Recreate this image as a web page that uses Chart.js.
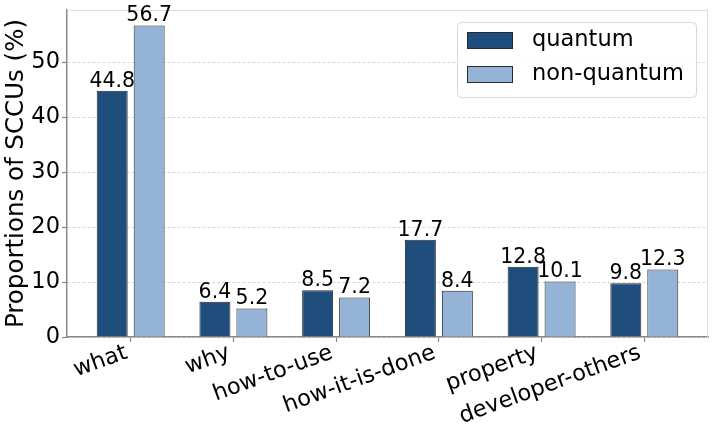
<!DOCTYPE html>
<html><head><meta charset="utf-8">
<script src="https://cdn.jsdelivr.net/npm/chart.js@4.4.0/dist/chart.umd.min.js"></script>
<style>html,body{margin:0;padding:0;background:#fff;}#wrap{width:713px;height:437px;}</style>
</head><body><div id="wrap"><canvas id="c" width="713" height="437"></canvas></div>
<script>
const categories = ['what','why','how-to-use','how-it-is-done','property','developer-others'];
const quantum = [44.8, 6.4, 8.5, 17.7, 12.8, 9.8];
const nonQuantum = [56.7, 5.2, 7.2, 8.4, 10.1, 12.3];
const seriesNames = ['quantum','non-quantum'];
const yTicks = [0, 10, 20, 30, 40, 50];

const FONT = '"DejaVu Sans", sans-serif';
const DARK = '#1f4e7d';
const LIGHT = '#95b3d7';
const EDGE = '#2a2a2a';

const toPoints = arr => arr.map((v, i) => ({x: i, y: v}));

const framePlugin = {
  id: 'frame',
  beforeDatasetsDraw(chart) {
    const {ctx, chartArea: a} = chart;
    ctx.save();
    ctx.strokeStyle = '#dddddd';
    ctx.lineWidth = 1;
    ctx.beginPath();
    ctx.moveTo(a.left, a.top + 0.5);
    ctx.lineTo(a.right - 0.5, a.top + 0.5);
    ctx.lineTo(a.right - 0.5, a.bottom);
    ctx.stroke();
    ctx.restore();
  }
};

const valueLabels = {
  id: 'valueLabels',
  afterDatasetsDraw(chart) {
    const ctx = chart.ctx;
    ctx.save();
    ctx.font = '20.5px ' + FONT;
    ctx.fillStyle = '#000';
    ctx.textAlign = 'center';
    ctx.textBaseline = 'alphabetic';
    chart.data.datasets.forEach((ds, di) => {
      const meta = chart.getDatasetMeta(di);
      meta.data.forEach((bar, i) => {
        ctx.fillText(ds.data[i].y.toFixed(1), bar.x, bar.y - 4);
      });
    });
    ctx.restore();
  }
};

const legendBox = {
  id: 'legendBox',
  afterDraw(chart) {
    const {ctx, chartArea: a} = chart;
    const w = 239, h = 75;
    const x = a.right - 12 - w, y = a.top + 12;
    ctx.save();
    ctx.beginPath();
    if (ctx.roundRect) ctx.roundRect(x + 0.5, y + 0.5, w, h, 4); else ctx.rect(x + 0.5, y + 0.5, w, h);
    ctx.fillStyle = 'rgba(255,255,255,0.85)';
    ctx.fill();
    ctx.strokeStyle = '#d8d8d8';
    ctx.lineWidth = 1;
    ctx.stroke();
    ctx.font = '22.5px ' + FONT;
    ctx.textAlign = 'left';
    ctx.textBaseline = 'middle';
    chart.data.datasets.forEach((ds, i) => {
      const sy = y + 10 + i * 34;
      ctx.fillStyle = ds.backgroundColor;
      ctx.fillRect(x + 10, sy, 46, 17);
      ctx.strokeStyle = EDGE;
      ctx.lineWidth = 1;
      ctx.strokeRect(x + 10.5, sy + 0.5, 45, 16);
      ctx.fillStyle = '#000';
      ctx.fillText(ds.label, x + 75, sy + 8.5);
    });
    ctx.restore();
  }
};

new Chart(document.getElementById('c'), {
  type: 'bar',
  data: {
    datasets: [
      {label: seriesNames[0], data: toPoints(quantum), backgroundColor: DARK, borderColor: EDGE, borderWidth: 1, borderSkipped: 'bottom'},
      {label: seriesNames[1], data: toPoints(nonQuantum), backgroundColor: LIGHT, borderColor: EDGE, borderWidth: 1, borderSkipped: 'bottom'}
    ]
  },
  options: {
    responsive: false,
    animation: false,
    devicePixelRatio: 1,
    categoryPercentage: 0.72,
    barPercentage: 0.838,
    layout: {padding: {top: 10, right: 5, left: 0, bottom: 0}},
    plugins: {legend: {display: false}, tooltip: {enabled: false}},
    scales: {
      x: {
        type: 'linear',
        min: -0.62,
        max: 5.62,
        offset: false,
        afterBuildTicks: s => { s.ticks = categories.map((_, i) => ({value: i})); },
        ticks: {
          callback: v => categories[v] + '\u2009',
          autoSkip: false,
          minRotation: 20,
          maxRotation: 20,
          font: {size: 22.5, family: FONT},
          color: '#000',
          padding: -4
        },
        grid: {offset: false, drawOnChartArea: false, tickLength: 5, tickColor: '#888', tickWidth: 1.2},
        border: {color: '#8a8a8a', width: 1.5},
        afterFit: s => { s.height = 100; s.paddingLeft = 0; s.paddingRight = 0; }
      },
      y: {
        min: 0,
        max: 59.5,
        afterBuildTicks: s => { s.ticks = yTicks.map(v => ({value: v})); },
        ticks: {font: {size: 22.5, family: FONT}, color: '#000', padding: 2},
        grid: {color: '#cccccc', lineWidth: 0.8, tickLength: 5, tickColor: '#888', tickWidth: 1.2},
        border: {dash: [3, 2], color: '#8a8a8a', width: 1.5},
        title: {display: true, text: 'Proportions of SCCUs (%)', font: {size: 24.5, family: FONT}, color: '#000', padding: {top: 2, bottom: 0}},
        afterFit: s => { s.width = 67; s.paddingTop = 0; s.paddingBottom = 0; }
      }
    }
  },
  plugins: [framePlugin, valueLabels, legendBox]
});
</script></body></html>
